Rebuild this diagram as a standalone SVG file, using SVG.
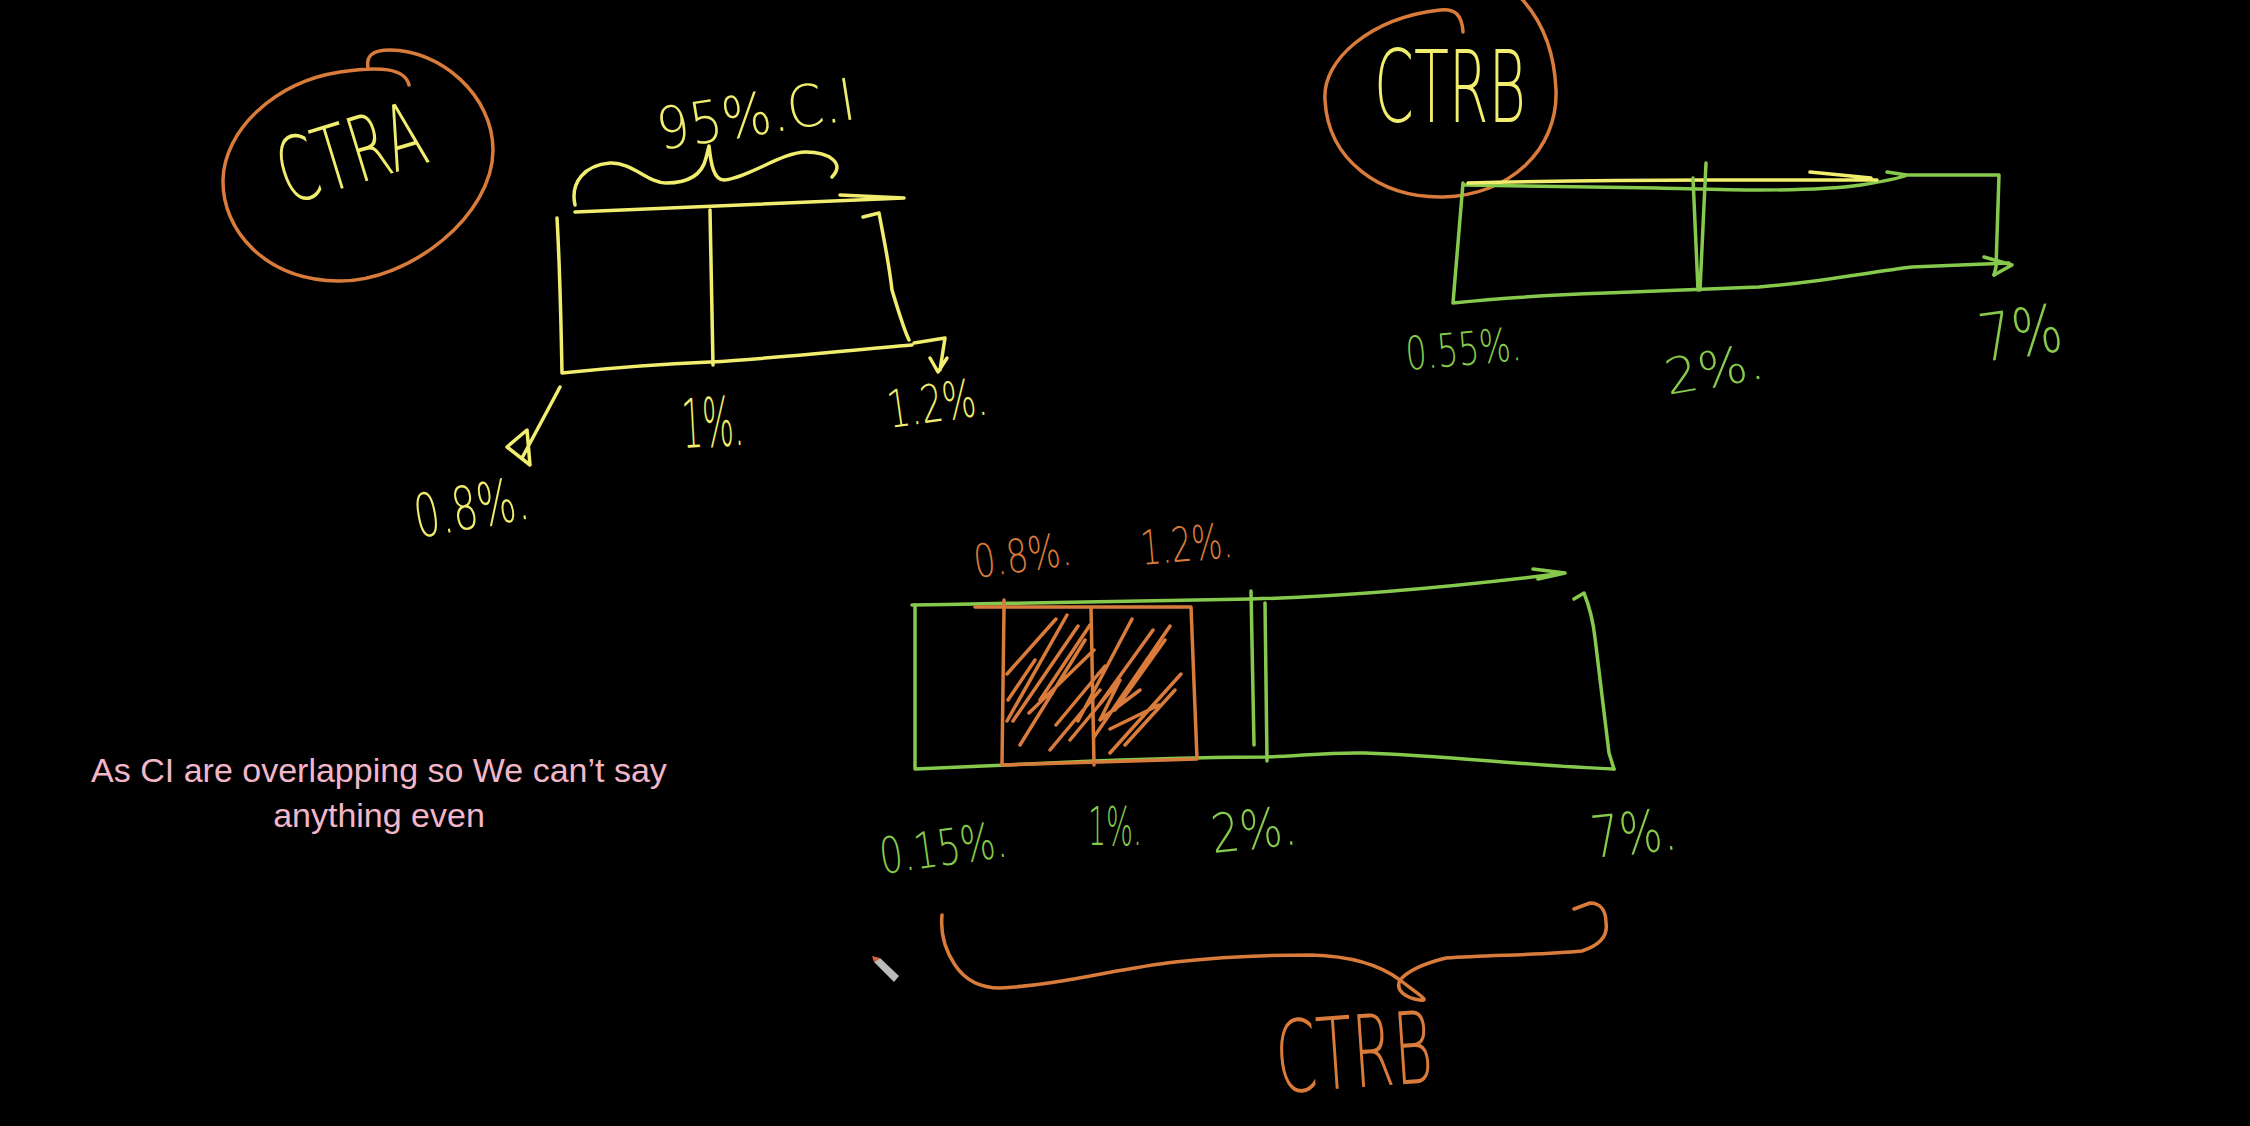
<svg xmlns="http://www.w3.org/2000/svg" width="2250" height="1126" viewBox="0 0 2250 1126">
<style>
.s{fill:none;stroke-width:3.5;stroke-linecap:round;stroke-linejoin:round}
.y{stroke:#f1ed6e}
.g{stroke:#86c94c}
.o{stroke:#d97b3b}
.t{font-family:"DejaVu Sans","Liberation Sans",sans-serif;font-weight:200}
.ty{fill:#f1ed6e}
.tg{fill:#86c94c}
.to{fill:#d97b3b}
.note{font-family:"Liberation Sans","DejaVu Sans",sans-serif;font-size:34px;fill:#f2b6c9;text-anchor:middle}
</style>
<rect width="2250" height="1126" fill="#000"/>

<g id="ctra">
  <path class="s o" d="M368,68 C366,56 372,50 390,50 C440,50 493,95 493,150 C493,215 410,282 338,281 C265,280 222,230 223,180 C224,130 275,82 340,72 C380,66 405,68 409,85"/>
  <text class="t ty" x="0" y="0" font-size="90" textLength="150" lengthAdjust="spacingAndGlyphs" transform="translate(288,205) rotate(-17)">CTRA</text>
</g>

<g id="ci-a">
  <path class="s y" d="M575,205 C570,182 585,165 610,163 C632,162 648,183 666,183 C688,183 702,175 706,158 L709,146 C711,165 714,180 724,180 C748,178 782,152 806,152 C828,152 846,163 832,177"/>
  <text class="t ty" x="0" y="0" font-size="58" textLength="200" lengthAdjust="spacingAndGlyphs" transform="translate(660,150) rotate(-9)">95%.C.I</text>
  <path class="s y" d="M575,212 L904,198 M840,195 L904,198"/>
  <path class="s y" d="M557,218 C560,270 561,320 562,373 C610,368 660,364 710,362 C780,358 850,350 912,345"/>
  <path class="s y" d="M863,217 L879,213 C884,240 889,263 892,290 C898,310 904,330 909,340"/>
  <path class="s y" d="M710,210 L713,365"/>
  <path class="s y" d="M560,387 L522,458 M507,447 L527,430 L530,465 Z"/>
  <path class="s y" d="M914,343 L945,338 L940,370 M930,358 L938,372 L947,358"/>
  <text class="t ty" x="0" y="0" font-size="60" textLength="115" lengthAdjust="spacingAndGlyphs" transform="translate(418,538) rotate(-10)">0.8%.</text>
  <text class="t ty" x="0" y="0" font-size="68" textLength="62" lengthAdjust="spacingAndGlyphs" transform="translate(683,448) rotate(-3)">1%.</text>
  <text class="t ty" x="0" y="0" font-size="52" textLength="100" lengthAdjust="spacingAndGlyphs" transform="translate(890,428) rotate(-8)">1.2%.</text>
</g>

<g id="ctrb">
  <path class="s o" d="M1463,32 C1462,15 1455,8 1440,10 C1370,18 1322,60 1325,100 C1328,160 1380,198 1443,197 C1510,195 1558,150 1556,90 C1554,40 1535,12 1518,-5"/>
  <text class="t ty" x="1374" y="122" font-size="100" textLength="152" lengthAdjust="spacingAndGlyphs">CTRB</text>
</g>

<g id="ci-b">
  <path class="s g" d="M1463,183 L1453,303 C1500,298 1550,295 1606,293 C1660,291 1710,289 1759,287 C1820,282 1870,272 1912,267 L2009,263 M1984,257 L2012,265 L1994,275"/>
  <path class="s g" d="M1463,185 C1540,186 1600,187 1657,188 C1700,189 1730,190 1759,190 C1800,190 1840,188 1861,185 C1880,182 1900,178 1907,175 L1887,172 M1907,175 L1999,175 L1996,267 L1994,275"/>
  <path class="s y" d="M1468,183 C1550,181 1640,180 1708,180 L1877,180 M1810,172 L1871,178"/>
  <path class="s g" d="M1706,163 L1700,290 M1693,178 L1698,290"/>
  <text class="t tg" x="0" y="0" font-size="46" textLength="116" lengthAdjust="spacingAndGlyphs" transform="translate(1407,370) rotate(-5)">0.55%.</text>
  <text class="t tg" x="0" y="0" font-size="50" textLength="100" lengthAdjust="spacingAndGlyphs" transform="translate(1668,395) rotate(-10)">2%.</text>
  <text class="t tg" x="0" y="0" font-size="66" textLength="84" lengthAdjust="spacingAndGlyphs" transform="translate(1982,362) rotate(-8)">7%</text>
</g>

<g id="compare">
  <path class="s g" d="M912,605 C1030,603 1150,600 1251,599 C1360,596 1460,586 1565,573 M1533,569 L1565,573 L1538,579"/>
  <path class="s g" d="M915,605 L915,769 C980,766 1040,763 1094,761 C1150,759 1210,757 1267,757 C1300,756 1330,752 1365,753 C1450,756 1530,766 1614,769"/>
  <path class="s g" d="M1574,599 L1584,593 C1590,608 1593,620 1595,638 C1600,680 1605,720 1609,753 L1614,769"/>
  <path class="s g" d="M1251,591 L1254,745 M1265,603 L1267,761"/>
  <path class="s o" d="M975,607 L1191,607 L1197,759 L1002,765 L1004,607 M1091,607 L1094,765 M1004,600 L1004,612"/>
  <path class="s o" stroke-width="3" d="M1007,674 L1056,619 M1007,721 L1067,615 M1013,721 L1078,626 M1029,713 L1094,650 M1056,725 L1105,666 M1094,737 L1170,626 M1110,753 L1181,674 M1078,721 L1132,619 M1099,705 L1153,630 M1110,729 L1159,705 M1040,700 L1090,625 M1070,740 L1120,680 L1100,720 L1140,690 M1020,745 L1085,640 M1050,750 L1100,690 M1115,710 L1165,640 M1125,745 L1175,690 M1008,700 L1035,660"/>
  <text class="t to" x="0" y="0" font-size="46" textLength="98" lengthAdjust="spacingAndGlyphs" transform="translate(976,578) rotate(-8)">0.8%.</text>
  <text class="t to" x="0" y="0" font-size="48" textLength="92" lengthAdjust="spacingAndGlyphs" transform="translate(1142,565) rotate(-5)">1.2%.</text>
  <text class="t tg" x="0" y="0" font-size="50" textLength="128" lengthAdjust="spacingAndGlyphs" transform="translate(882,874) rotate(-8)">0.15%.</text>
  <text class="t tg" x="0" y="0" font-size="54" textLength="54" lengthAdjust="spacingAndGlyphs" transform="translate(1088,845)">1%.</text>
  <text class="t tg" x="0" y="0" font-size="54" textLength="86" lengthAdjust="spacingAndGlyphs" transform="translate(1213,853) rotate(-6)">2%.</text>
  <text class="t tg" x="0" y="0" font-size="58" textLength="86" lengthAdjust="spacingAndGlyphs" transform="translate(1593,858) rotate(-6)">7%.</text>
  <path class="s o" d="M942,915 C940,935 945,950 955,965 C965,980 980,988 1000,988 C1060,985 1120,968 1175,962 C1230,956 1270,955 1311,955 C1350,956 1380,965 1400,980 C1415,992 1432,1002 1420,1000 C1405,998 1395,990 1400,980 C1410,968 1430,962 1446,958 C1490,955 1540,955 1582,951 C1600,945 1608,935 1606,923 C1606,910 1600,903 1590,903 L1574,909"/>
  <text class="t to" x="0" y="0" font-size="100" textLength="157" lengthAdjust="spacingAndGlyphs" transform="translate(1278,1093) rotate(-4)">CTRB</text>
</g>

<g id="cursor">
  <polygon points="874,962 880,958 899,976 894,982" fill="#bbbbbb"/>
  <polygon points="874,962 880,958 872,956" fill="#e0603a"/>
</g>

<g id="note">
  <text class="note" x="379" y="782">As CI are overlapping so We can’t say</text>
  <text class="note" x="379" y="827">anything even</text>
</g>
</svg>
